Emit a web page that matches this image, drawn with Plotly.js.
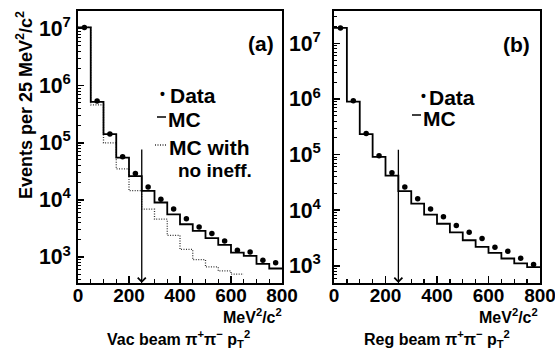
<!DOCTYPE html>
<html>
<head>
<meta charset="utf-8">
<script src="https://cdn.plot.ly/plotly-3.0.1.min.js"></script>
<style>html,body{margin:0;padding:0;background:#fff;}#chart{width:555px;height:352px;}</style>
</head>
<body>
<div id="chart"></div>
<script>
// Bin edges in MeV^2/c^2 (50-wide bins)
const binEdges = [0,50,100,150,200,250,300,350,400,450,500,550,600,650,700,750,800];
const binCenters = [25,75,125,175,225,275,325,375,425,475,525,575,625,675,725,775];

// Panel (a): vacuum beam
const dataA = [1.05e7, 5.4e5, 1.42e5, 5.7e4, 2.9e4, 1.69e4, 1.03e4, 6.9e3, 4.7e3, 3.36e3, 2.57e3, 1.91e3, 1.31e3, 1.22e3, 875, 795];
const mcA = [1.05e7, 5.2e5, 1.42e5, 5.5e4, 2.6e4, 1.44e4, 9.0e3, 5.6e3, 3.75e3, 2.86e3, 2.14e3, 1.63e3, 1.19e3, 1.05e3, 760, 630];
const mcNoIneffA = [1.05e7, 4.6e5, 1.0e5, 3.5e4, 1.45e4, 6.9e3, 4.6e3, 2.4e3, 1.36e3, 900, 670, 570, 500];

// Panel (b): regenerator beam
const dataB = [1.9e7, 9.3e5, 2.4e5, 9.5e4, 4.7e4, 2.62e4, 1.61e4, 1.05e4, 7.6e3, 5.3e3, 4.0e3, 3.1e3, 2.15e3, 1.82e3, 1.37e3, 1.05e3];
const mcB = [1.9e7, 9.0e5, 2.34e5, 9.1e4, 4.2e4, 2.2e4, 1.31e4, 8.3e3, 5.7e3, 4.0e3, 2.88e3, 2.19e3, 1.71e3, 1.35e3, 1.1e3, 945];

// Cut position and arrow tops
const cutValue = 250;
const arrowTopA = 8.1e4;
const arrowTopB = 1.3e5;

const W = 555, H = 352;
const px = v => v / W;
const py = v => 1 - v / H;

function stepTrace(vals, xa, ya, dash, width, color) {
  const n = vals.length;
  return {
    x: binEdges.slice(0, n + 1),
    y: vals.concat([vals[n - 1]]),
    xaxis: xa, yaxis: ya,
    mode: 'lines', line: {shape: 'hv', color: color || '#000', width: width, dash: dash},
    showlegend: false, hoverinfo: 'skip'
  };
}
function dotTrace(vals, xa, ya) {
  return {
    x: binCenters, y: vals, xaxis: xa, yaxis: ya,
    mode: 'markers', marker: {symbol: 'circle', size: 5.5, color: '#000'},
    showlegend: false, hoverinfo: 'skip'
  };
}

const traces = [
  stepTrace(mcNoIneffA, 'x', 'y', '1px,1.5px', 1.3, '#333'),
  stepTrace(mcA, 'x', 'y', 'solid', 1.8),
  dotTrace(dataA, 'x', 'y'),
  stepTrace(mcB, 'x2', 'y2', 'solid', 1.8),
  dotTrace(dataB, 'x2', 'y2')
];

const FAM = 'Liberation Sans, Arial, sans-serif';
const tickFont = {family: FAM, size: 19, color: '#000', weight: 'bold'};
const yTickFont = {family: FAM, size: 17, color: '#000', weight: 'bold'};
const txtFont = {family: FAM, size: 21, color: '#000', weight: 'bold'};

function xAxis(dom, anchor) {
  return {
    domain: dom, anchor: anchor, range: [0, 800], dtick: 200, tick0: 0,
    ticks: 'inside', ticklen: 7, tickwidth: 1.5, tickcolor: '#000',
    minor: {dtick: 50, ticks: 'inside', ticklen: 4, tickwidth: 1.3, tickcolor: '#000'},
    showline: true, mirror: true, linecolor: '#000', linewidth: 1.8,
    showgrid: false, zeroline: false, tickfont: tickFont, fixedrange: true,
    ticklabeloverflow: 'allow', ticklabelstandoff: -6
  };
}
function yAxis(range, anchor, standoff) {
  return {
    domain: [py(283), py(11)], anchor: anchor, type: 'log', range: range,
    dtick: 1, exponentformat: 'power',
    ticks: 'inside', ticklen: 6, tickwidth: 1.5, tickcolor: '#000',
    minor: {dtick: 'D1', ticks: 'inside', ticklen: 3, tickwidth: 1, tickcolor: '#000'},
    showline: true, mirror: true, linecolor: '#000', linewidth: 1.8,
    showgrid: false, zeroline: false, tickfont: yTickFont, ticklabelstandoff: standoff,
    fixedrange: true
  };
}

const sup2 = '<sup>2</sup>';
const ann = [];
function txt(text, x, y, xanchor, size) {
  ann.push({text: text, xref: 'paper', yref: 'paper', x: px(x), y: py(y),
    xanchor: xanchor || 'left', yanchor: 'middle', showarrow: false,
    font: Object.assign({}, txtFont, size ? {size: size} : {})});
}
// Panel labels
txt('(a)', 261, 43, 'center');
txt('(b)', 516, 44, 'center');
// Legend texts (a)
txt('•', 162, 94, 'center', 14);
txt('Data', 168, 95);
txt('MC', 166, 120);
txt('MC with', 167, 147);
txt('no ineff.', 176, 170, 'left', 19);
// Legend texts (b)
txt('•', 423, 96, 'center', 14);
txt('Data', 427, 97);
txt('MC', 421, 118);
// Axis titles
txt('MeV' + sup2 + '/c' + sup2, 284, 316, 'right', 16);
txt('Vac beam π<sup>+</sup>π<sup>−</sup> p<sub>T</sub>' + sup2, 178, 339, 'center', 16);
txt('MeV' + sup2 + '/c' + sup2, 540, 316, 'right', 16);
txt('Reg beam π<sup>+</sup>π<sup>−</sup> p<sub>T</sub>' + sup2, 437, 339, 'center', 16);
ann.push({text: 'Events per 25 MeV' + sup2 + '/c' + sup2, xref: 'paper', yref: 'paper',
  x: px(24), y: py(105), xanchor: 'center', yanchor: 'middle', textangle: -90,
  showarrow: false, font: Object.assign({}, txtFont, {size: 18})});

// Cut arrows
const yA = [2.545, 7.308], yB = [2.69, 7.583];
ann.push({x: cutValue, y: yA[0], ax: cutValue, ay: Math.log10(arrowTopA), xref: 'x', yref: 'y', axref: 'x', ayref: 'y',
  showarrow: true, arrowhead: 4, arrowsize: 1.2, arrowwidth: 1.3, arrowcolor: '#000', standoff: 0, text: ''});
ann.push({x: cutValue, y: yB[0], ax: cutValue, ay: Math.log10(arrowTopB), xref: 'x2', yref: 'y2', axref: 'x2', ayref: 'y2',
  showarrow: true, arrowhead: 4, arrowsize: 1.2, arrowwidth: 1.3, arrowcolor: '#000', standoff: 0, text: ''});

// Legend keys
const shapes = [
  {type: 'line', xref: 'paper', yref: 'paper', x0: px(157), x1: px(166), y0: py(117), y1: py(117), line: {color: '#000', width: 1.5}},
  {type: 'line', xref: 'paper', yref: 'paper', x0: px(155), x1: px(167), y0: py(145), y1: py(145), line: {color: '#333', width: 1.3, dash: '1px,1.5px'}},
  {type: 'line', xref: 'paper', yref: 'paper', x0: px(412), x1: px(421), y0: py(115), y1: py(115), line: {color: '#000', width: 1.5}}
];

const layout = {
  width: W, height: H, margin: {l: 0, r: 0, t: 0, b: 0},
  paper_bgcolor: '#fff', plot_bgcolor: '#fff', showlegend: false,
  xaxis: xAxis([px(78), px(282)], 'y'),
  yaxis: yAxis(yA, 'x', 2),
  xaxis2: xAxis([px(334), px(540)], 'y2'),
  yaxis2: yAxis(yB, 'x2', 8),
  annotations: ann, shapes: shapes
};
Plotly.newPlot('chart', traces, layout, {staticPlot: true, displayModeBar: false});
</script>
</body>
</html>
